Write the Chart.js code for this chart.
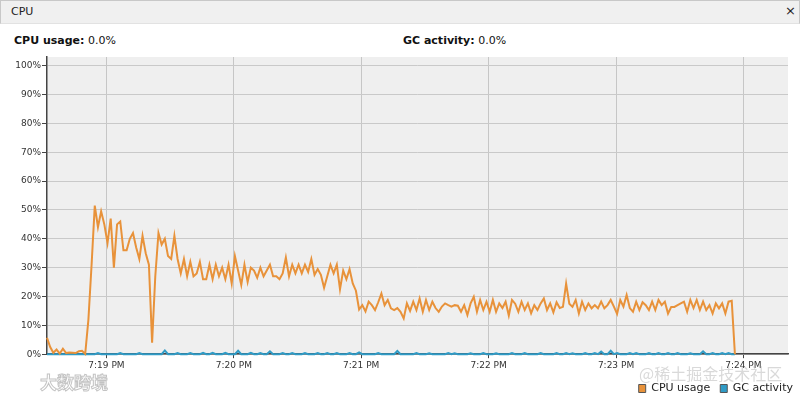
<!DOCTYPE html>
<html>
<head>
<meta charset="utf-8">
<script src="https://cdn.jsdelivr.net/npm/chart.js@4"></script>
<style>
  body { margin: 0; width: 800px; height: 397px; background: #fff; font-family: "DejaVu Sans", sans-serif; overflow: hidden; position: relative; }
  #head { position: absolute; left: 0; top: 0; width: 798px; height: 22px; background: #f0f0f0; border: 1px solid #c8c8c8; border-bottom: 1px solid #e2e2e2; }
  #head span { position: absolute; left: 10px; top: 4px; font-size: 11px; color: #222; }
  #head b { position: absolute; right: 3px; top: 2px; font-size: 13px; font-weight: normal; color: #222; }
  .stat { position: absolute; top: 34px; font-size: 11px; color: #111; }
  .stat strong { font-weight: bold; }
  #wrap { position: absolute; left: 0; top: 48px; width: 803px; height: 356px; }
  .wm1 { position: absolute; left: 639px; top: 361px; font-size: 16px; color: rgba(170,170,170,0.45); font-family: "Noto Sans CJK SC", sans-serif; }
  .wm2 { position: absolute; left: 40px; top: 369px; font-size: 17px; color: rgba(255,255,255,0.6); -webkit-text-stroke: 1px rgba(170,170,170,0.7); font-family: "Noto Sans CJK SC", sans-serif; font-weight: bold; }
</style>
</head>
<body>
<div id="head"><span>CPU</span><b>×</b></div>
<div class="stat" style="left:14px"><strong>CPU usage:</strong> 0.0%</div>
<div class="stat" style="left:403px"><strong>GC activity:</strong> 0.0%</div>
<div id="wrap"><canvas id="myChart" width="803" height="356"></canvas></div>
<div class="wm2">大数跨境</div>
<div class="wm1">@稀土掘金技术社区</div>
<script>
// samples: seconds after 7:00 PM
let sampleStart = 1112
let sampleStep = 1.5

let tickSeconds = [1140, 1200, 1260, 1320, 1380, 1440]
let tickLabels = ['7:19 PM', '7:20 PM', '7:21 PM', '7:22 PM', '7:23 PM', '7:24 PM']
let yTicks = [0, 10, 20, 30, 40, 50, 60, 70, 80, 90, 100]

let seriesNames = ['CPU usage', 'GC activity']

let cpuUsage = [
  5.7, 2.5, 0.5, 1.6, 0.2, 1.9, 0.4, 0.6, 0.5, 0.4,
  1.0, 1.2, 0.1, 12, 31, 51.5, 44, 49.5, 45, 38.5,
  47, 30, 45, 46, 36, 36, 40, 42, 37, 33,
  41, 35, 31, 4, 27, 42, 38, 40, 34, 33,
  41, 33, 28, 33, 27, 32, 27, 28, 32, 26,
  26, 31, 26, 31, 27, 30, 26, 31, 24.5, 34,
  29, 24, 31, 25, 30, 29, 26.5, 30, 27, 29,
  31, 27, 27, 26, 28, 33.5, 27, 31, 28, 31,
  28, 31, 28.5, 33, 27.5, 29.5, 27.5, 23, 27, 31,
  28, 31, 22.5, 29, 26, 29.5, 24.5, 22, 15.5, 17,
  14.8, 18.2, 17, 15.3, 18, 21, 17, 18.8, 15.9, 15.3,
  16, 14.7, 12.4, 17.6, 15, 18.2, 15.3, 19.3, 14.7, 18.8,
  15.3, 18.2, 16, 14.7, 16.5, 17.6, 17, 16.5, 17, 16.8,
  14.7, 17, 13.6, 17.6, 19.9, 14.7, 18.8, 15.3, 18.2, 14.7,
  18.8, 14.7, 17.6, 16, 18.2, 13.4, 18.8, 17.5, 14.7, 18.2,
  15.3, 17.6, 14.2, 17, 15.3, 17.6, 19.3, 15.3, 17.6, 14.5,
  18, 16, 16.4, 24.5, 17.5, 16.4, 18.8, 14.1, 18.2, 15.3,
  17.6, 15.9, 17, 15.9, 18.2, 15.9, 17, 18.8, 16.5, 14,
  18.8, 16.5, 20.5, 16, 14.7, 18.2, 15.3, 18, 17, 15.3,
  18.2, 15.3, 18.8, 17, 18.2, 14.1, 16.4, 16.4, 17, 17.6,
  18.2, 14.7, 18.8, 16, 18.8, 15.3, 18.2, 15.3, 17, 14.1,
  17.6, 15.9, 17.6, 14.1, 18.2, 18.5, 0
]

let gcActivity = [
  0, 0, 0, 0, 0, 0, 0, 0, 0, 0,
  0, 0, 0, 0, 0, 0, 0.4, 0, 0, 0,
  0, 0, 0, 0.4, 0, 0, 0, 0, 0, 0.4,
  0, 0, 0, 0, 0, 0, 0, 1.3, 0, 0,
  0, 0.4, 0, 0, 0, 0.4, 0, 0, 0, 0.5,
  0, 0, 0.5, 0, 0, 0, 0.5, 0, 0, 0,
  1.2, 0, 0, 0, 0.5, 0, 0, 0.4, 0, 0,
  1.0, 0, 0, 0, 0.4, 0, 0, 0.4, 0, 0,
  0, 0.4, 0, 0, 0, 0.4, 0, 0, 0.4, 0,
  0, 0.4, 0, 0, 0, 0.4, 0, 0, 0.6, 0,
  0, 0, 0, 0, 0.4, 0, 0, 0, 0, 0,
  1.1, 0, 0, 0, 0, 0, 0.4, 0, 0, 0,
  0.3, 0, 0, 0, 0, 0, 0.4, 0, 0.3, 0,
  0, 0, 0, 0.3, 0, 0, 0, 0.4, 0, 0,
  0, 0.3, 0, 0, 0, 0, 0.4, 0, 0, 0,
  0.4, 0, 0, 0, 0, 0.4, 0, 0, 0, 0,
  0.4, 0, 0, 0.4, 0, 0.3, 0, 0, 0, 0.4,
  0, 0, 0.4, 0, 0.9, 0, 0, 1.2, 0, 0.4,
  0, 0, 0, 0.4, 0, 0.4, 0, 0, 0, 0.4,
  0, 0, 0.4, 0, 0, 0.4, 0, 0, 0.4, 0,
  0, 0, 0.3, 0, 0, 0, 1.0, 0, 0, 0.4,
  0, 0, 0.4, 0, 0.4, 0, 0
]

let toPoints = (arr) => arr.map((v, i) => ({x: sampleStart + i * sampleStep, y: v}))

// grey plot background
let plotBg = {
  id: 'plotBg',
  beforeDraw(chart) {
    let a = chart.chartArea
    let c = chart.ctx
    c.save()
    c.fillStyle = '#efefef'
    c.fillRect(a.left, a.top, a.right - a.left, a.bottom - a.top)
    c.restore()
  }
}

let font = {family: '"DejaVu Sans", sans-serif', size: 9}

let ctx = document.getElementById('myChart').getContext('2d')
let graph = new Chart(ctx, {
  type: 'line',
  data: {
    datasets: [{
      label: seriesNames[0],
      data: toPoints(cpuUsage),
      borderColor: '#e8923a',
      backgroundColor: '#e8923a',
      borderWidth: 2,
      pointRadius: 0,
      clip: 4,
      fill: false
    }, {
      label: seriesNames[1],
      data: toPoints(gcActivity),
      borderColor: '#2f9bc6',
      backgroundColor: '#2f9bc6',
      borderWidth: 2,
      pointRadius: 0,
      clip: 4,
      fill: false
    }]
  },
  plugins: [plotBg],
  options: {
    responsive: false,
    animation: false,
    layout: {padding: {top: 9, left: 0, right: 0, bottom: 0}},
    plugins: {
      tooltip: {enabled: false},
      legend: {
        position: 'bottom',
        align: 'end',
        labels: {
          font: {family: '"DejaVu Sans", sans-serif', size: 11},
          color: '#222',
          boxWidth: 7,
          boxHeight: 8,
          padding: 10,
          generateLabels(chart) {
            return Chart.defaults.plugins.legend.labels.generateLabels(chart)
              .map(l => Object.assign(l, {strokeStyle: '#555', lineWidth: 1}))
          }
        }
      }
    },
    scales: {
      x: {
        type: 'linear',
        min: 1112,
        max: 1461,
        afterBuildTicks(s) { s.ticks = tickSeconds.map(v => ({value: v})) },
        ticks: {
          font: font,
          color: '#333',
          padding: 2,
          maxRotation: 0,
          callback: (v) => tickLabels[tickSeconds.indexOf(v)]
        },
        grid: {color: '#c6c6c6', lineWidth: 1, tickLength: 4, tickColor: '#444'},
        border: {color: '#444', width: 1.5}
      },
      y: {
        min: 0,
        max: 103,
        afterBuildTicks(s) { s.ticks = yTicks.map(v => ({value: v})) },
        afterFit(s) { s.width = 47 },
        ticks: {
          font: font,
          color: '#333',
          padding: 1,
          callback: (v) => v + '%'
        },
        grid: {color: '#c9c9c9', lineWidth: 1, borderDash: [1, 2], tickLength: 5, tickColor: '#444', tickBorderDash: []},
        border: {color: '#444', width: 1.5}
      },
      yRight: {
        position: 'right',
        afterFit(s) { s.width = 15 },
        ticks: {display: false},
        grid: {display: false, drawTicks: false},
        border: {display: false}
      }
    }
  }
})
</script>
</body>
</html>
